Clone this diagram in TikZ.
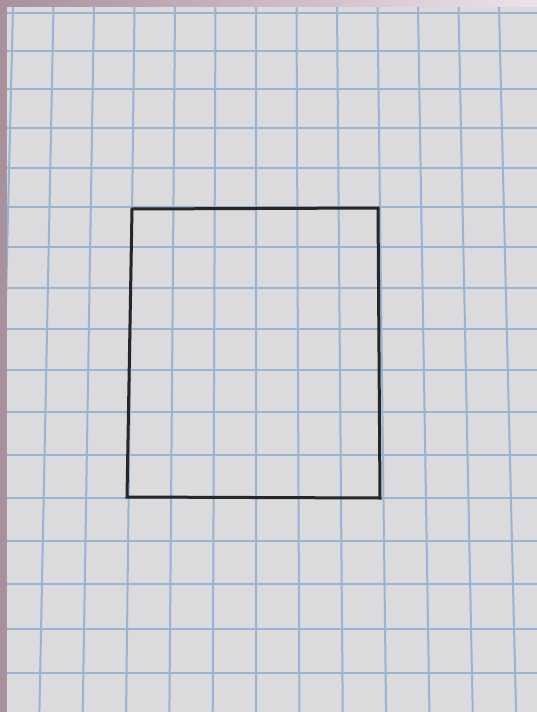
\documentclass[tikz,border=0pt]{standalone}
\usepackage{xcolor}
\definecolor{deskmauve}{HTML}{A8909D}
\definecolor{deskpink}{HTML}{EEE2EA}
\definecolor{papergray}{HTML}{DBDBDD}
\definecolor{gridblue}{HTML}{9AB3D0}
\definecolor{pencil}{HTML}{262626}
\tikzset{
  gridline/.style={gridblue, line width=2pt},
  penline/.style={pencil, line width=3pt, line join=miter}
}

\begin{document}
\begin{tikzpicture}[x=1pt,y=-1pt]
\useasboundingbox (0,0) rectangle (537,712);
% desk behind the sheet
\shade[left color=deskmauve, right color=deskpink] (0,0) rectangle (537,712);
\fill[papergray] (7,7) rectangle (537,712);
\begin{scope}
\clip (7,7) rectangle (537,712);
% vertical rules, a bit wider apart at the bottom (camera angle)
\foreach \i in {0,...,13} {
  \pgfmathsetmacro\xt{13+40.5*\i}
  \pgfmathsetmacro\xb{255+(\xt-255)*1.07}
  \draw[gridline] (\xt,7) -- (\xb,712);
}
% horizontal rules
\foreach \j in {0,...,16} {
  \pgfmathsetmacro\yy{13+37.75*\j+0.219*\j*\j}
  \draw[gridline] (7,\yy) -- (537,\yy);
}
\end{scope}
% the drawn rectangle
\coordinate (tl) at (132,209);
\coordinate (tr) at (378,208);
\coordinate (br) at (380,498);
\coordinate (bl) at (127,497);
\draw[penline] (tl) -- (tr) -- (br) -- (bl) -- cycle;
\end{tikzpicture}
\end{document}
